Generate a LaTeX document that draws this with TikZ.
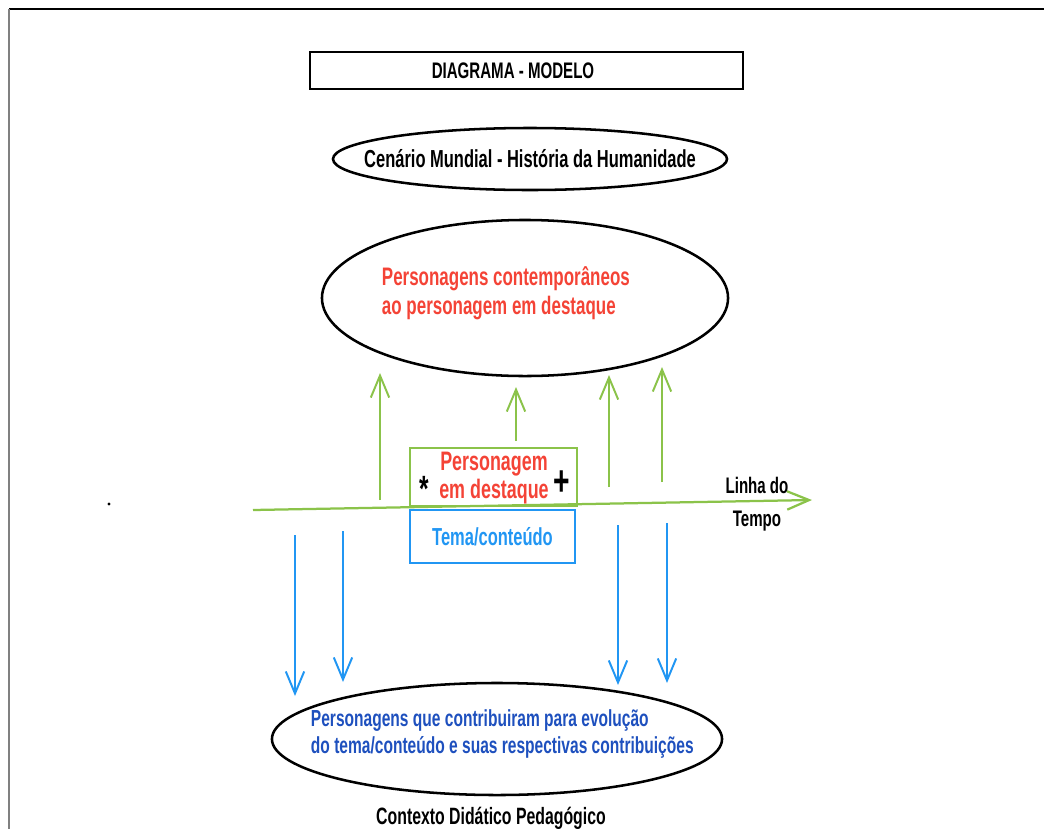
\documentclass[tikz,border=0pt]{standalone}
\usepackage{fontspec}
\setmainfont[FakeStretch=0.67]{Liberation Sans}
\usetikzlibrary{arrows.meta}
\definecolor{verde}{RGB}{139,195,74}
\definecolor{vermelho}{RGB}{244,67,54}
\definecolor{azul}{RGB}{33,150,243}
\definecolor{azulescuro}{RGB}{30,80,190}
\tikzset{
  texto/.style={font=\bfseries\fontsize{17.5}{21}\selectfont},
  sobe/.style={verde, line width=1.4pt, -{Straight Barb[length=5.5mm,width=4.6mm,line width=1.4pt]}},
  desce/.style={azul, line width=1.4pt, -{Straight Barb[length=5.5mm,width=4.6mm,line width=1.4pt]}},
  contorno/.style={line width=1.8pt, black}
}

\begin{document}
\begin{tikzpicture}[x=0.025cm,y=-0.025cm]
    \useasboundingbox (0,0) rectangle (1044,829);
    \draw[line width=1.2pt, black] (9,9) -- (1044,9);
    \draw[line width=0.8pt, gray] (9,9) -- (9,829);
    \fill (109,504) circle (1.1pt);

    \node[contorno, draw, minimum width=10.825cm, minimum height=0.925cm] (titulo) at (526.5,70.5) {};
    \node[font=\bfseries\fontsize{16}{19}\selectfont] (tittexto) at (513,71) {DIAGRAMA - MODELO};

    \coordinate (cen) at (530,159);
    \draw[contorno] (cen) ellipse [x radius=4.925cm, y radius=0.775cm];
    \node[texto] (cenario) at (cen) {Cenário Mundial - História da Humanidade};

    \coordinate (con) at (525,298);
    \draw[contorno] (con) ellipse [x radius=5.075cm, y radius=1.95cm];
    \node[texto, font=\bfseries\fontsize{18}{21}\selectfont, vermelho, align=left, anchor=west] (contemp) at (377,293)
        {Personagens contemporâneos\\ao personagem em destaque};

    \coordinate (t0) at (253,510);
    \coordinate (t1) at (812,500);
    \draw[verde, line width=1.6pt, -{Straight Barb[length=5.5mm,width=4.6mm,line width=1.6pt]}] (t0) -- (t1);
    \node[font=\bfseries\fontsize{16}{20.5}\selectfont, align=center] (linha) at (757,504) {Linha do\\[3pt]Tempo};

    \node[draw=verde, line width=1.4pt, minimum width=4.175cm, minimum height=1.45cm] (destaque) at (493.5,477) {};
    \node[font=\bfseries\fontsize{19}{19.5}\selectfont, vermelho, align=center] (pers) at (494,478) {Personagem\\em destaque};
    \node[font=\bfseries\fontsize{26}{26}\selectfont] (ast) at (424,489) {*};
    \node[font=\bfseries\fontsize{30}{30}\selectfont] (mais) at (562,483) {+};

    \node[draw=azul, line width=1.8pt, minimum width=4.125cm, minimum height=1.325cm,
          texto, azul] (tema) at (492.5,536.5) {Tema/conteúdo};

    \foreach [count=\i] \x/\ya/\yb in {380/500/373, 516/441/387, 609/487/375, 662/482/367} {
        \coordinate (s\i) at (\x,\ya);
        \coordinate (e\i) at (\x,\yb);
        \draw[sobe] (s\i) -- (e\i);
    }
    \foreach [count=\i] \x/\ya/\yb in {295/535/696, 343/531/682, 618/525/685, 667/523/683} {
        \coordinate (p\i) at (\x,\ya);
        \coordinate (q\i) at (\x,\yb);
        \draw[desce] (p\i) -- (q\i);
    }

    \coordinate (ctr) at (497,739);
    \draw[contorno] (ctr) ellipse [x radius=5.625cm, y radius=1.4cm];
    \node[font=\bfseries\fontsize{16.5}{19}\selectfont, azulescuro, align=left, anchor=west] (contrib) at (306,734)
        {Personagens que contribuiram para evolução\\do tema/conteúdo e suas respectivas contribuições};

    \node[font=\bfseries\fontsize{16.8}{20}\selectfont] (contexto) at (491,818) {Contexto Didático Pedagógico};
\end{tikzpicture}
\end{document}
